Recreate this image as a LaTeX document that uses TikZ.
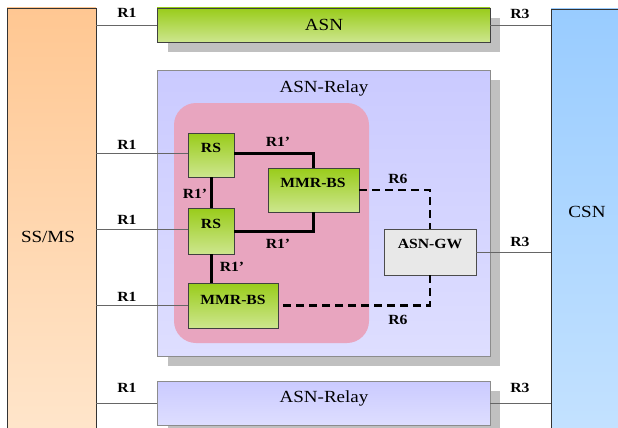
\documentclass[tikz,border=0pt]{standalone}
\usepackage{fontspec}
\setmainfont{Liberation Serif}
\newfontfamily\wfont[FakeStretch=1.12,Ligatures=TeX]{Liberation Serif}
\definecolor{gtop}{HTML}{99CC1A}
\definecolor{gbot}{HTML}{CDE68E}
\definecolor{ltop}{HTML}{CACAFF}
\definecolor{lbot}{HTML}{DEDEFF}
\definecolor{pinkr}{HTML}{E8A5BF}
\definecolor{gwfill}{HTML}{E8E8E8}
\definecolor{shad}{HTML}{C0C0C0}
\definecolor{otop}{HTML}{FFC792}
\definecolor{obot}{HTML}{FFE6CC}
\definecolor{btop}{HTML}{99CCFF}
\definecolor{bbot}{HTML}{C4E2FF}
\begin{document}
\begin{tikzpicture}[x=1pt,y=-1pt,
  bigl/.style={font=\wfont\fontsize{17}{19}\selectfont, inner sep=0},
  rl/.style={font=\wfont\bfseries\fontsize{14}{16}\selectfont, inner sep=0},
  bl/.style={font=\wfont\bfseries\fontsize{14}{16}\selectfont, inner sep=0},
  sbox/.style={rectangle, inner sep=0, draw=black!55, line width=0.8pt},
  gbox/.style={sbox, draw=black!75, top color=gtop, bottom color=gbot},
  lbox/.style={sbox, draw=black!45, top color=ltop, bottom color=lbot},
  shadowbox/.style={fill=shad},
  conn/.style={draw=black!60, line width=0.9pt},
  thickc/.style={draw=black, line width=3pt},
  dashc/.style={draw=black, line width=2.5pt, dash pattern=on 8pt off 5pt}]
\useasboundingbox (0,0) rectangle (618,428);
\clip (0,0) rectangle (618,428);
% side boxes
\node[sbox, draw=black!80, top color=otop, bottom color=obot, minimum width=89pt, minimum height=432pt] (ssms) at (51.5,224) {};
\node[sbox, draw=black!80, top color=btop, bottom color=bbot, minimum width=79pt, minimum height=431pt] (csn) at (590.5,224.5) {};
% shadows
\fill[shadowbox] (168,18) rectangle (500,52);
\fill[shadowbox] (168,80) rectangle (500,366);
\fill[shadowbox] (168,391) rectangle (500,440);
% ASN
\node[gbox, minimum width=333pt, minimum height=34pt] (asn) at (323.5,25) {};
% ASN-Relay big
\node[lbox, minimum width=333pt, minimum height=286pt] (relay) at (323.5,213) {};
\node[rectangle, fill=pinkr, rounded corners=22pt, minimum width=195pt, minimum height=240pt] (pink) at (271.5,223) {};
% bottom relay
\node[lbox, minimum width=333pt, minimum height=44pt] (relayb) at (323.5,403) {};
% R1 / R3 connectors
\draw[conn] (asn.west) -- (asn.west -| ssms.east);
\draw[conn] (asn.east) -- (asn.east -| csn.west);
\coordinate (c1) at (188,153);
\coordinate (c2) at (188,229);
\coordinate (c3) at (188,305);
\draw[conn] (c1) -- (c1 -| ssms.east);
\draw[conn] (c2) -- (c2 -| ssms.east);
\draw[conn] (c3) -- (c3 -| ssms.east);
\draw[conn] (relayb.west) -- (relayb.west -| ssms.east);
\draw[conn] (relayb.east) -- (relayb.east -| csn.west);
% inner boxes
\node[gbox, minimum width=46pt, minimum height=44pt] (rs1) at (211,155) {};
\node[gbox, minimum width=46pt, minimum height=46pt] (rs2) at (211,231) {};
\node[gbox, minimum width=91pt, minimum height=44pt] (mmr1) at (313.5,190) {};
\node[gbox, minimum width=90pt, minimum height=45pt] (mmr2) at (233,305.5) {};
\node[sbox, draw=black!70, fill=gwfill, minimum width=92pt, minimum height=46pt] (gw) at (430,252) {};
\draw[conn] (gw.east) -- (gw.east -| csn.west);
% thick R1' links
\draw[thickc] (rs1.east |- 0,153) -| (mmr1.north);
\draw[thickc] (rs2.east) -| (mmr1.south);
\draw[thickc] (rs1.south) -- (rs2.north);
\draw[thickc] (rs2.south) -- (rs2.south |- mmr2.north);
% dashed R6
\draw[dashc] (mmr1.east) -| (gw.north);
\draw[dashc] (gw.south) |- (mmr2.east);
% big labels
\node[bigl] (tasn) at (324,25) {ASN};
\node[bigl] (trel) at (324,88) {ASN-Relay};
\node[bigl] (trelb) at (324,398) {ASN-Relay};
\node[bigl] (tss) at (48,237) {SS/MS};
\node[bigl] (tcsn) at (587,212) {CSN};
% box labels
\node[bl] (trs1) at (211,148) {RS};
\node[bl] (trs2) at (211,224) {RS};
\node[bl] (tm1) at (313,183) {MMR-BS};
\node[bl] (tm2) at (233,300) {MMR-BS};
\node[bl] (tgw) at (430,243.5) {ASN-GW};
% R labels
\node[rl] (l1) at (127,12.5) {R1};
\node[rl] (l2) at (127,145) {R1};
\node[rl] (l3) at (127,220) {R1};
\node[rl] (l4) at (127,297) {R1};
\node[rl] (l5) at (127,388) {R1};
\node[rl] (l6) at (520,14) {R3};
\node[rl] (l7) at (520,242) {R3};
\node[rl] (l8) at (520,388) {R3};
\node[rl] (l9) at (278,142) {R1’};
\node[rl] (l10) at (195,194) {R1’};
\node[rl] (l11) at (278,244) {R1’};
\node[rl] (l12) at (232,267) {R1’};
\node[rl] (l13) at (398,179) {R6};
\node[rl] (l14) at (398,320) {R6};
\end{tikzpicture}
\end{document}
